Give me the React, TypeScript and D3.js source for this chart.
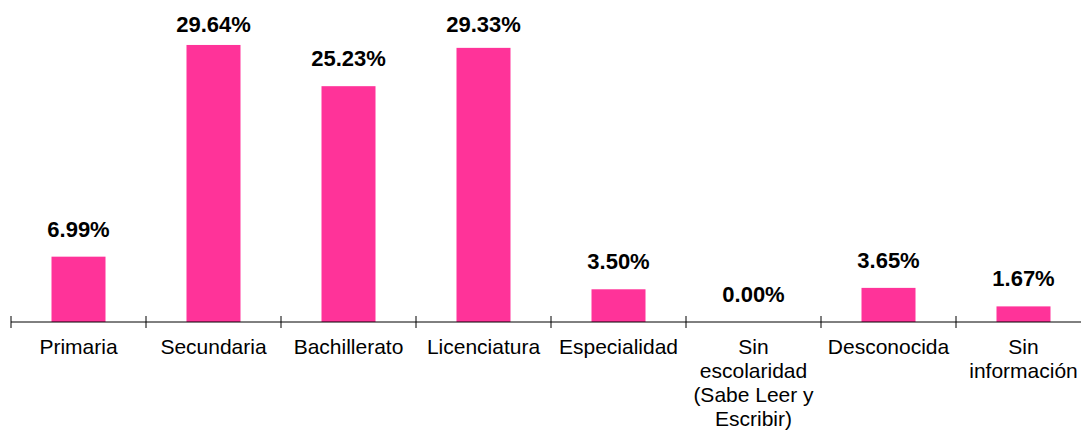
import React from "react";
import * as d3 from "d3";

const categories = [
  "Primaria",
  "Secundaria",
  "Bachillerato",
  "Licenciatura",
  "Especialidad",
  "Sin escolaridad (Sabe Leer y Escribir)",
  "Desconocida",
  "Sin información",
];

const categoryLines = [
  ["Primaria"],
  ["Secundaria"],
  ["Bachillerato"],
  ["Licenciatura"],
  ["Especialidad"],
  ["Sin", "escolaridad", "(Sabe Leer y", "Escribir)"],
  ["Desconocida"],
  ["Sin", "información"],
];

const values = [6.99, 29.64, 25.23, 29.33, 3.5, 0.0, 3.65, 1.67];

const WIDTH = 1081;
const HEIGHT = 430;
const FONT = "'Liberation Sans', Arial, sans-serif";

const App = () => {
  const axisY = 322;

  const x = d3
    .scaleBand<string>()
    .domain(categories)
    .range([11, 1091])
    .paddingInner(0.6)
    .paddingOuter(0.3);

  const y = d3.scaleLinear().domain([0, 30]).range([axisY, 41.6]);

  const step = x.step();
  const start = x.range()[0];
  // tick marks sit between the categories
  const ticks = d3.range(categories.length + 1).map((i) => start + i * step);

  return (
    <svg
      width={WIDTH}
      height={HEIGHT}
      style={{ position: "absolute", left: 0, top: 0, background: "#fff" }}
      fontFamily={FONT}
    >
      {categories.map((c, i) => (
        <rect
          key={c}
          x={x(c)}
          y={y(values[i])}
          width={x.bandwidth()}
          height={axisY - y(values[i])}
          fill="#FF3399"
        />
      ))}

      {/* value labels */}
      {categories.map((c, i) => (
        <text
          key={"v" + c}
          x={(x(c) ?? 0) + x.bandwidth() / 2}
          y={Math.max(y(values[i]) - 20, 32)}
          textAnchor="middle"
          fontSize={22}
          fontWeight="bold"
          fill="#000"
        >
          {values[i].toFixed(2) + "%"}
        </text>
      ))}

      {/* axis */}
      <line x1={start} x2={x.range()[1]} y1={axisY} y2={axisY} stroke="#000" strokeWidth={1} />
      {ticks.map((t, i) => (
        <line key={"t" + i} x1={t} x2={t} y1={axisY - 6} y2={axisY + 6} stroke="#000" strokeWidth={1} />
      ))}

      {categories.map((c, i) => (
        <text
          key={"c" + c}
          x={(x(c) ?? 0) + x.bandwidth() / 2}
          y={354}
          textAnchor="middle"
          fontSize={21}
          fill="#000"
        >
          {categoryLines[i].map((line, j) => (
            <tspan key={j} x={(x(c) ?? 0) + x.bandwidth() / 2} dy={j === 0 ? 0 : 24}>
              {line}
            </tspan>
          ))}
        </text>
      ))}
    </svg>
  );
};

export default App;
